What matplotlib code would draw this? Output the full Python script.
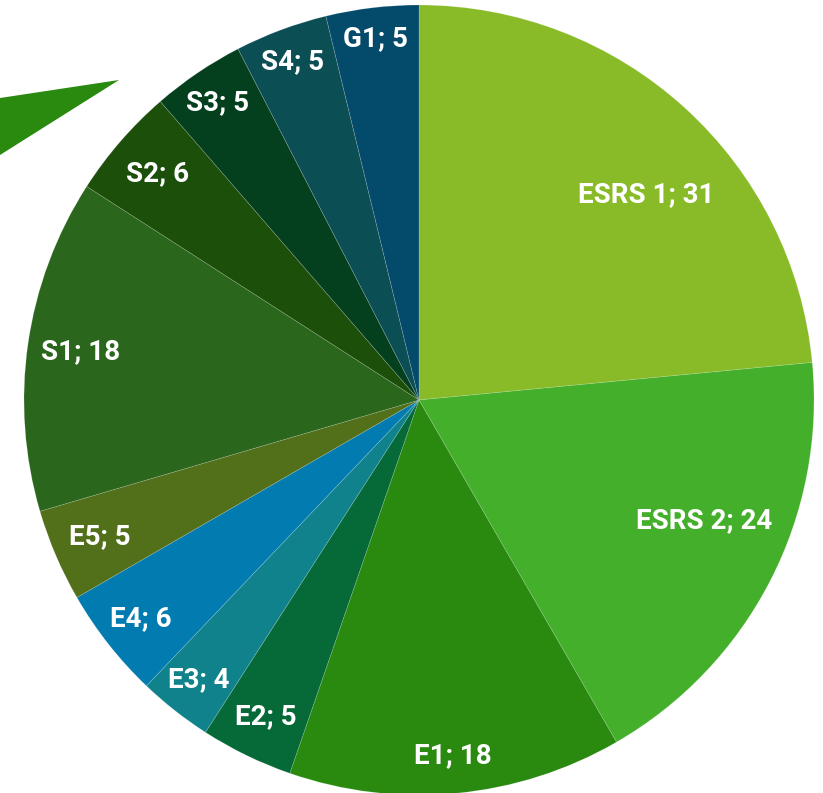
import numpy as np
import matplotlib.pyplot as plt
from matplotlib.patches import Polygon

# Data
categories = ['ESRS 1', 'ESRS 2', 'E1', 'E2', 'E3', 'E4', 'E5',
              'S1', 'S2', 'S3', 'S4', 'G1']
values = [31, 24, 18, 5, 4, 6, 5, 18, 6, 5, 5, 5]

# Styling
colors = ['#89BB28', '#44AF2A', '#2A8A10', '#066A38', '#10828C', '#027CB0',
          '#526F1A', '#2A661C', '#1C4F0A', '#043F1E', '#0B4F55', '#044A6A']
label_r = [0.775, 0.785, 0.905, 0.89, 0.90, 0.895, 0.88, 0.865, 0.875, 0.91, 0.915, 0.92]
label_shift = [-5.6, 4.3, 0, 0, 0, 0, 0, 0, 0, 0, 0, 0]

W, H = 823, 793
fig = plt.figure(figsize=(W / 100, H / 100), dpi=100)
ax = fig.add_axes([0, 0, 1, 1])

cx, cy, R = 419, H - 400, 395

# decorative triangle top-left
ax.add_patch(Polygon([(0, H - 98), (119, H - 80), (0, H - 155)],
                     closed=True, color='#2A8A10', lw=0))

wedges, _ = ax.pie(values, colors=colors, startangle=90, counterclock=False,
                   center=(cx, cy), radius=R, frame=True,
                   wedgeprops=dict(edgecolor=(1, 1, 1, 0.2), linewidth=0.5))
ax.set_xlim(0, W)
ax.set_ylim(0, H)
ax.axis('off')

for w, cat, v, r, s in zip(wedges, categories, values, label_r, label_shift):
    mid = np.deg2rad((w.theta1 + w.theta2) / 2 + s)
    x = cx + r * R * np.cos(mid)
    y = cy + r * R * np.sin(mid)
    ax.text(x, y, f'{cat}; {v}', ha='center', va='center', color='white',
            fontsize=20, fontweight='bold', family=['Roboto', 'DejaVu Sans'])

fig.savefig('out.png', dpi=100)
